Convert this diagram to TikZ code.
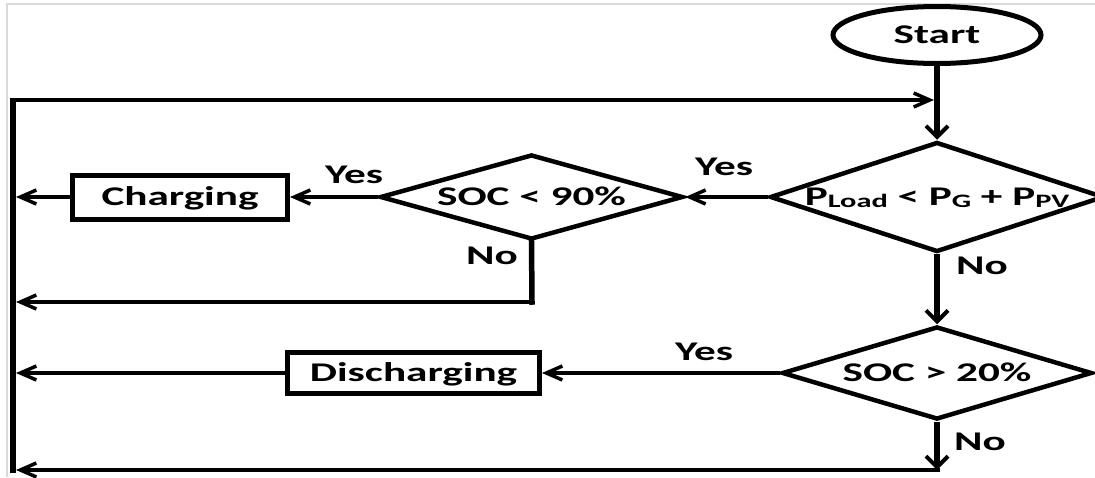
\documentclass[tikz,border=0pt]{standalone}
\usepackage{fontspec}
\newfontfamily\dfont{Carlito}[FakeStretch=1.6]
\usetikzlibrary{shapes.geometric,arrows.meta}
\newcommand\mysub[1]{\raisebox{-2pt}{\fontsize{19pt}{19pt}\selectfont #1}}
\begin{document}
\begin{tikzpicture}[x=1pt,y=-1pt,
  txt/.style={font=\dfont\bfseries\fontsize{27pt}{27pt}\selectfont, inner sep=0pt, text height=17pt, text depth=0pt},
  dia/.style={txt, diamond, draw, line width=4.5pt},
  procbox/.style={txt, rectangle, draw, line width=5pt},
  harr/.style={line width=4pt, -{Straight Barb[length=16pt,width=14pt,line width=3.5pt]}},
  varr/.style={line width=5.5pt, -{Straight Barb[length=11pt,width=22pt,line width=4pt]}},
  vline/.style={line width=5.5pt, line cap=rect}]
\useasboundingbox (0,0) rectangle (1095,477);
\clip (0,0) rectangle (1095,477);
% light frame
\draw[black!15, line width=2pt] (7,477) -- (7,4) -- (1095,4);
% shapes
\node[txt, ellipse, draw, line width=5pt, minimum width=208pt, minimum height=57pt] (start) at (937,35) {Start};
\node[dia, aspect=3.04, minimum width=334pt, minimum height=110pt] (d1) at (937,197) {P\mysub{Load} < P\mysub{G} + P\mysub{PV}};
\node[dia, aspect=3.56, minimum width=303pt, minimum height=85pt] (d2) at (531.5,197) {SOC < 90\%};
\node[dia, aspect=3.33, minimum width=310pt, minimum height=93pt] (d3) at (937,373) {SOC > 20\%};
\node[procbox, minimum width=215pt, minimum height=44pt] (chg) at (180,197) {Charging};
\node[procbox, minimum width=252pt, minimum height=41pt] (dis) at (413.5,373) {Discharging};
% coordinates
\coordinate (lt) at (13,98);
\coordinate (lb) at (13,472.5);
\coordinate (tl) at (13,100);
\coordinate (tr) at (934,100);
\coordinate (a1) at (16,197);
\coordinate (n2) at (532,302);
\coordinate (a2) at (16,302);
\coordinate (a3) at (16,373);
\coordinate (bc) at (937,470);
\coordinate (a4) at (16,470);
% left return bar and top loop
\draw[line width=6pt] (lt) -- (lb);
\draw[harr] (tl) -- (tr);
% flow
\draw[varr] (start.south) -- (d1.north);
\draw[harr] (d1.west) -- (d2.east);
\draw[harr] (d2.west) -- (chg.east);
\draw[harr] (chg.west) -- (a1);
\draw[vline] (d2.south) -- (n2);
\draw[harr] (n2) -- (a2);
\draw[varr] (d1.south) -- (d3.north);
\draw[harr] (d3.west) -- (dis.east);
\draw[harr] (dis.west) -- (a3);
\draw[varr] (d3.south) -- (bc);
\draw[harr, shorten <=-3pt] (bc) -- (a4);
% labels
\node[txt] (y1) at (724,167) {Yes};
\node[txt] (y2) at (354,175) {Yes};
\node[txt] (y3) at (704,352) {Yes};
\node[txt] (no1) at (982,266) {No};
\node[txt] (no2) at (492,256) {No};
\node[txt] (no3) at (980,442) {No};
\end{tikzpicture}
\end{document}
